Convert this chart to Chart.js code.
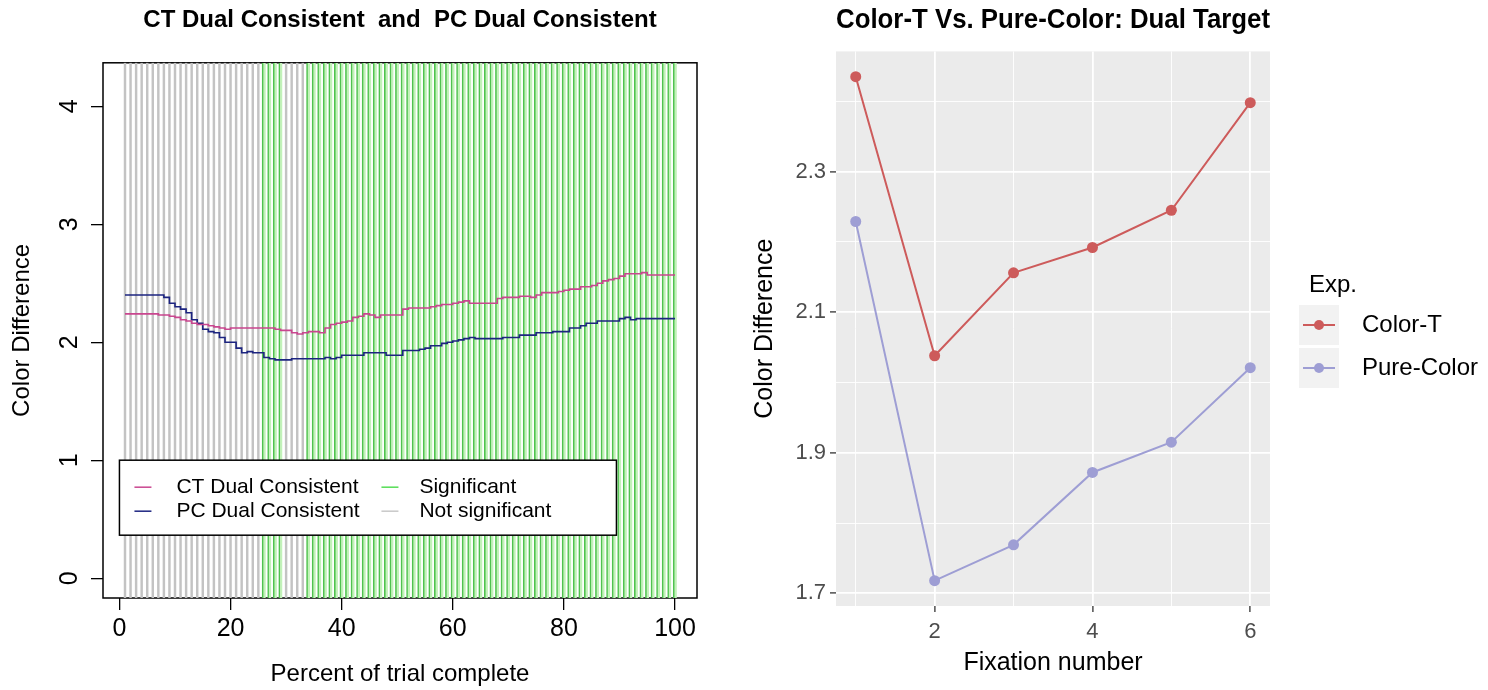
<!DOCTYPE html>
<html lang="en">
<head>
<meta charset="UTF-8">
<title>Color Difference - Dual Target</title>
<script src="https://cdn.jsdelivr.net/npm/chart.js"></script>
<style>
  html, body { margin: 0; padding: 0; background: #fff; }
  .wrap { position: relative; width: 1488px; height: 690px; }
  .panel { position: absolute; top: 0; width: 744px; height: 690px; }
  #left { left: 0; }
  #right { left: 744px; }
</style>
</head>
<body>
<div class="wrap">
  <div class="panel" id="left"><canvas id="chartLeft" width="744" height="690"></canvas></div>
  <div class="panel" id="right"><canvas id="chartRight" width="744" height="690"></canvas></div>
</div>

<script>
// ---- left panel: running color difference over the trial ----
const percent = Array.from({ length: 100 }, (_, i) => i + 1);

const ctDual = [
  2.24, 2.24, 2.24, 2.24, 2.24, 2.24, 2.23, 2.23, 2.22, 2.21,
  2.19, 2.18, 2.16, 2.15, 2.15, 2.14, 2.13, 2.12, 2.11, 2.12,
  2.12, 2.12, 2.12, 2.12, 2.12, 2.12, 2.12, 2.11, 2.10, 2.10,
  2.08, 2.07, 2.08, 2.09, 2.09, 2.08, 2.12, 2.15, 2.16, 2.17,
  2.18, 2.21, 2.22, 2.24, 2.23, 2.21, 2.23, 2.23, 2.23, 2.23,
  2.28, 2.29, 2.29, 2.29, 2.29, 2.30, 2.31, 2.32, 2.32, 2.33,
  2.34, 2.35, 2.33, 2.33, 2.33, 2.33, 2.33, 2.37, 2.38, 2.38,
  2.38, 2.39, 2.39, 2.38, 2.40, 2.42, 2.42, 2.42, 2.43, 2.44,
  2.45, 2.45, 2.47, 2.47, 2.48, 2.50, 2.52, 2.53, 2.54, 2.56,
  2.58, 2.58, 2.58, 2.59, 2.57, 2.57, 2.57, 2.57, 2.57, 2.57
];

const pcDual = [
  2.40, 2.40, 2.40, 2.40, 2.40, 2.40, 2.40, 2.38, 2.33, 2.30,
  2.28, 2.25, 2.19, 2.16, 2.11, 2.09, 2.08, 2.04, 2.00, 2.00,
  1.95, 1.91, 1.92, 1.91, 1.91, 1.87, 1.86, 1.85, 1.85, 1.85,
  1.86, 1.86, 1.86, 1.86, 1.86, 1.86, 1.87, 1.86, 1.87, 1.89,
  1.89, 1.89, 1.89, 1.91, 1.91, 1.91, 1.91, 1.89, 1.89, 1.89,
  1.93, 1.93, 1.93, 1.94, 1.95, 1.97, 1.97, 1.99, 2.00, 2.01,
  2.02, 2.03, 2.04, 2.03, 2.03, 2.03, 2.03, 2.03, 2.04, 2.04,
  2.04, 2.06, 2.06, 2.06, 2.08, 2.08, 2.08, 2.09, 2.09, 2.09,
  2.12, 2.12, 2.14, 2.16, 2.16, 2.18, 2.18, 2.18, 2.18, 2.20,
  2.21, 2.19, 2.20, 2.20, 2.20, 2.20, 2.20, 2.20, 2.20, 2.20
];

// 1 = significant difference at that percent, 0 = not significant
const significant = [
  0, 0, 0, 0, 0, 0, 0, 0, 0, 0,
  0, 0, 0, 0, 0, 0, 0, 0, 0, 0,
  0, 0, 0, 0, 0, 1, 1, 1, 1, 0,
  0, 0, 0, 1, 1, 1, 1, 1, 1, 1,
  1, 1, 1, 1, 1, 1, 1, 1, 1, 1,
  1, 1, 1, 1, 1, 1, 1, 1, 1, 1,
  1, 1, 1, 1, 1, 1, 1, 1, 1, 1,
  1, 1, 1, 1, 1, 1, 1, 1, 1, 1,
  1, 1, 1, 1, 1, 1, 1, 1, 1, 1,
  1, 1, 1, 1, 1, 1, 1, 1, 1, 1
];

const xTicksLeft = [0, 20, 40, 60, 80, 100];
const yTicksLeft = [0, 1, 2, 3, 4];

// ---- right panel: mean per fixation ----
const fixation = [1, 2, 3, 4, 5, 6];
const colorT = [2.435, 2.038, 2.156, 2.192, 2.245, 2.398];
const pureColor = [2.229, 1.718, 1.769, 1.872, 1.915, 2.021];
const xTicksRight = [2, 4, 6];
const xMinorRight = [1, 3, 5];
const yTicksRight = [1.7, 1.9, 2.1, 2.3];
const yMinorRight = [1.8, 2.0, 2.2, 2.4];

const FONT = '"Liberation Sans", Arial, Helvetica, sans-serif';
Chart.defaults.font.family = FONT;
Chart.defaults.color = '#000';

const LEFT_Y = { min: -0.168, max: 4.368 };

// box around the base-graphics plot region (drawn under the bars)
const boxFrame = {
  id: 'boxFrame',
  beforeDatasetsDraw(chart) {
    const { ctx, chartArea: a } = chart;
    ctx.save();
    ctx.strokeStyle = '#000';
    ctx.lineWidth = 1.5;
    ctx.strokeRect(a.left, a.top, a.width, a.height);
    ctx.restore();
  }
};

// legend box inside the plot, anchored at x = 0, y = 1
const leftLegend = {
  id: 'leftLegend',
  afterDatasetsDraw(chart) {
    const { ctx, scales } = chart;
    const left = scales.x.getPixelForValue(0);
    const top = scales.y.getPixelForValue(1);
    ctx.save();
    ctx.fillStyle = '#fff';
    ctx.fillRect(left, top, 497, 75);
    ctx.strokeStyle = '#000';
    ctx.lineWidth = 1.5;
    ctx.strokeRect(left, top, 497, 75);
    ctx.font = '21px ' + FONT;
    ctx.textBaseline = 'middle';
    chart.data.datasets.forEach((ds, i) => {
      const col = i < 2 ? 0 : 1;
      const row = i % 2;
      const sx = left + (col ? 262 : 15);
      const tx = left + (col ? 300 : 57);
      const yy = top + 27 + row * 24;
      ctx.strokeStyle = ds.legendColor;
      ctx.lineWidth = 1.5;
      ctx.beginPath();
      ctx.moveTo(sx, yy);
      ctx.lineTo(sx + 17, yy);
      ctx.stroke();
      ctx.fillStyle = '#000';
      ctx.fillText(ds.label, tx, yy);
    });
    ctx.restore();
  }
};

const sigData = [], nonSigData = [];
percent.forEach((p, i) => {
  (significant[i] ? sigData : nonSigData).push({ x: p, y: [LEFT_Y.min, LEFT_Y.max] });
});

new Chart(document.getElementById('chartLeft'), {
  type: 'bar',
  data: {
    datasets: [
      {
        type: 'line',
        label: 'CT Dual Consistent',
        data: percent.map((p, i) => ({ x: p, y: ctDual[i] })),
        borderColor: '#c9468f',
        legendColor: '#c9468f',
        borderWidth: 1.6,
        stepped: true,
        pointRadius: 0,
        order: 1
      },
      {
        type: 'line',
        label: 'PC Dual Consistent',
        data: percent.map((p, i) => ({ x: p, y: pcDual[i] })),
        borderColor: '#1c2480',
        legendColor: '#1c2480',
        borderWidth: 1.6,
        stepped: true,
        pointRadius: 0,
        order: 1
      },
      {
        label: 'Significant',
        data: sigData,
        backgroundColor: '#c2f2b9',
        borderColor: '#4fc24f',
        borderWidth: { left: 1.6, right: 0, top: 0, bottom: 0 },
        borderSkipped: false,
        legendColor: '#55dd55',
        barThickness: 3.6,
        grouped: false,
        order: 2
      },
      {
        label: 'Not significant',
        data: nonSigData,
        backgroundColor: '#c3c3c3',
        legendColor: '#c8c8c8',
        barThickness: 1.8,
        grouped: false,
        order: 2
      }
    ]
  },
  options: {
    responsive: false,
    animation: false,
    layout: { padding: { left: 0, right: 47, top: 0, bottom: 0 } },
    plugins: {
      legend: { display: false },
      tooltip: { enabled: false },
      title: {
        display: true,
        fullSize: false,
        text: 'CT Dual Consistent  and  PC Dual Consistent',
        font: { size: 24, weight: 'bold' },
        color: '#000',
        padding: { top: 6, bottom: 28 }
      }
    },
    scales: {
      x: {
        type: 'linear',
        min: -2.96,
        max: 103.96,
        offset: false,
        afterBuildTicks: s => { s.ticks = xTicksLeft.map(v => ({ value: v })); },
        afterFit: s => { s.height = 92; },
        grid: { drawOnChartArea: false, offset: false, tickLength: 12, color: '#000', lineWidth: 1.3 },
        border: { display: false },
        ticks: { font: { size: 25 }, color: '#000', padding: 4, maxRotation: 0 },
        title: { display: true, text: 'Percent of trial complete', font: { size: 24 }, color: '#000', padding: { top: 0, bottom: 1 } }
      },
      y: {
        min: LEFT_Y.min,
        max: LEFT_Y.max,
        afterBuildTicks: s => { s.ticks = yTicksLeft.map(v => ({ value: v })); },
        afterFit: s => { s.width = 103; },
        grid: { drawOnChartArea: false, tickLength: 12, color: '#000', lineWidth: 1.3 },
        border: { display: false },
        ticks: { font: { size: 25 }, color: '#000', padding: 14, minRotation: 90, maxRotation: 90, crossAlign: 'center' },
        title: { display: true, text: 'Color Difference', font: { size: 24 }, color: '#000', padding: { top: 8, bottom: 0 } }
      }
    }
  },
  plugins: [boxFrame, leftLegend]
});

// ---- right panel (ggplot look) ----
const isIn = (list, v) => list.some(t => Math.abs(t - v) < 1e-9);

const panelBg = {
  id: 'panelBg',
  beforeDraw(chart) {
    const { ctx, chartArea: a } = chart;
    ctx.save();
    ctx.fillStyle = '#ebebeb';
    ctx.fillRect(a.left, a.top, a.width, a.height);
    ctx.restore();
  }
};

const rightLegend = {
  id: 'rightLegend',
  afterDraw(chart) {
    const { ctx, chartArea: a } = chart;
    const kx = a.right + 29;
    ctx.save();
    ctx.font = '24px ' + FONT;
    ctx.textBaseline = 'middle';
    ctx.fillStyle = '#000';
    ctx.fillText('Exp.', a.right + 39, 285);
    chart.data.datasets.forEach((ds, i) => {
      const cy = 325 + i * 43;
      ctx.fillStyle = '#f2f2f2';
      ctx.fillRect(kx, cy - 20, 40, 40);
      ctx.strokeStyle = ds.borderColor;
      ctx.lineWidth = 2;
      ctx.beginPath();
      ctx.moveTo(kx + 4, cy);
      ctx.lineTo(kx + 36, cy);
      ctx.stroke();
      ctx.fillStyle = ds.borderColor;
      ctx.beginPath();
      ctx.arc(kx + 20, cy, 5, 0, Math.PI * 2);
      ctx.fill();
      ctx.fillStyle = '#000';
      ctx.fillText(ds.label, a.right + 92, cy);
    });
    ctx.restore();
  }
};

new Chart(document.getElementById('chartRight'), {
  type: 'line',
  data: {
    datasets: [
      {
        label: 'Color-T',
        data: fixation.map((f, i) => ({ x: f, y: colorT[i] })),
        borderColor: '#cd5b5b',
        backgroundColor: '#cd5b5b',
        borderWidth: 2,
        pointRadius: 5.5,
        pointBorderWidth: 0,
        pointBackgroundColor: '#cd5b5b'
      },
      {
        label: 'Pure-Color',
        data: fixation.map((f, i) => ({ x: f, y: pureColor[i] })),
        borderColor: '#9e9ed4',
        backgroundColor: '#9e9ed4',
        borderWidth: 2,
        pointRadius: 5.5,
        pointBorderWidth: 0,
        pointBackgroundColor: '#9e9ed4'
      }
    ]
  },
  options: {
    responsive: false,
    animation: false,
    layout: { padding: { left: 0, right: 218, top: 0, bottom: 0 } },
    plugins: {
      legend: { display: false },
      tooltip: { enabled: false },
      title: {
        display: true,
        fullSize: false,
        align: 'start',
        text: 'Color-T Vs. Pure-Color: Dual Target',
        font: { size: 27, weight: 'bold' },
        color: '#000',
        padding: { top: 4, bottom: 15 }
      }
    },
    scales: {
      x: {
        type: 'linear',
        min: 0.75,
        max: 6.25,
        afterBuildTicks: s => { s.ticks = [...xTicksRight, ...xMinorRight].sort((a, b) => a - b).map(v => ({ value: v })); },
        afterFit: s => { s.height = 84; },
        grid: {
          color: '#fff',
          lineWidth: c => isIn(xTicksRight, c.tick.value) ? 1.8 : 0.9,
          tickLength: 6,
          tickColor: c => isIn(xTicksRight, c.tick.value) ? '#333' : 'rgba(0,0,0,0)',
          tickWidth: 1.3
        },
        border: { display: false },
        ticks: {
          font: { size: 22 },
          color: '#4d4d4d',
          padding: 7,
          maxRotation: 0,
          callback: v => isIn(xTicksRight, v) ? String(v) : ''
        },
        title: { display: true, text: 'Fixation number', font: { size: 25 }, color: '#000', padding: { top: 0, bottom: 12 } }
      },
      y: {
        min: 1.682,
        max: 2.471,
        afterBuildTicks: s => { s.ticks = [...yTicksRight, ...yMinorRight].sort((a, b) => a - b).map(v => ({ value: v })); },
        afterFit: s => { s.width = 92; },
        grid: {
          color: '#fff',
          lineWidth: c => isIn(yTicksRight, c.tick.value) ? 1.8 : 0.9,
          tickLength: 6,
          tickColor: c => isIn(yTicksRight, c.tick.value) ? '#333' : 'rgba(0,0,0,0)',
          tickWidth: 1.3
        },
        border: { display: false },
        ticks: {
          font: { size: 22 },
          color: '#4d4d4d',
          padding: 4,
          callback: v => isIn(yTicksRight, v) ? v.toFixed(1) : ''
        },
        title: { display: true, text: 'Color Difference', font: { size: 25 }, color: '#000', padding: { top: 6, bottom: 0 } }
      }
    }
  },
  plugins: [panelBg, rightLegend]
});
</script>
</body>
</html>
